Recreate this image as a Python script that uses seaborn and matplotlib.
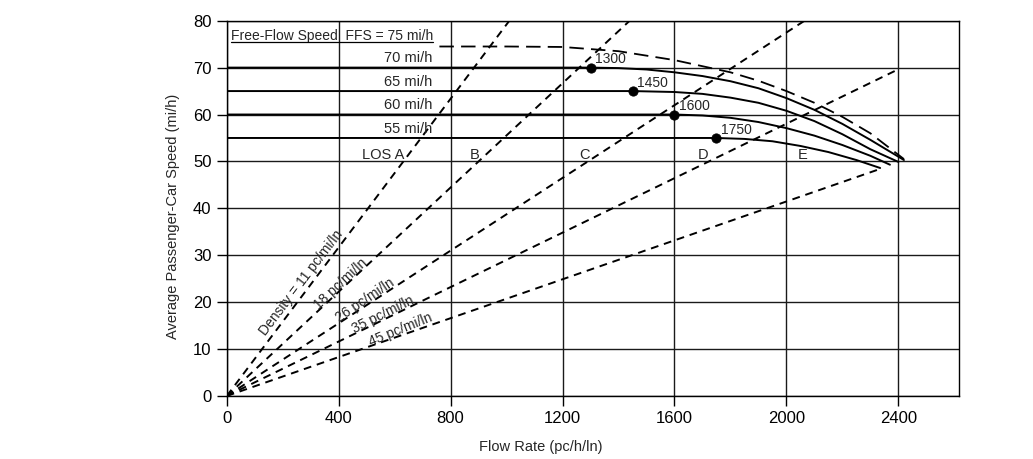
import matplotlib
matplotlib.use("Agg")
import matplotlib.pyplot as plt
import seaborn as sns
import pandas as pd
from matplotlib.lines import Line2D

# -------------------------
# Datos
# -------------------------
# Curvas velocidad-flujo por velocidad de flujo libre (FFS)
flow_75 = [760, 1000, 1200, 1400, 1600, 1800, 1900, 2000, 2100, 2200, 2300, 2420]
speed_75 = [74.5, 74.5, 74.4, 73.5, 71.6, 69.0, 67.2, 65.0, 62.5, 59.5, 56.0, 50.5]

flow_70 = [0, 1300, 1400, 1500, 1600, 1700, 1800, 1900, 2000, 2100, 2200, 2300, 2420]
speed_70 = [70, 70, 69.9, 69.6, 69.0, 68.2, 67.1, 65.6, 63.5, 61.0, 58.0, 54.6, 50.3]

flow_65 = [0, 1450, 1600, 1700, 1800, 1900, 2000, 2100, 2200, 2300, 2400]
speed_65 = [65, 65, 64.8, 64.4, 63.6, 62.5, 60.8, 58.6, 55.8, 52.6, 49.9]

flow_60 = [0, 1600, 1700, 1800, 1900, 2000, 2100, 2200, 2300, 2370]
speed_60 = [60, 60, 59.8, 59.3, 58.4, 57.1, 55.5, 53.5, 51.2, 49.3]

flow_55 = [0, 1750, 1850, 1950, 2050, 2150, 2250, 2335]
speed_55 = [55, 55, 54.8, 54.3, 53.3, 52.0, 50.3, 48.6]

ffs_names = ["70 mi/h", "65 mi/h", "60 mi/h", "55 mi/h"]
ffs_values = [70, 65, 60, 55]

# Puntos de quiebre
bp_flow = [1300, 1450, 1600, 1750]
bp_speed = [70, 65, 60, 55]
bp_labels = ["1300", "1450", "1600", "1750"]

# Líneas de densidad (desde el origen hasta su extremo)
dens_labels = ["Density = 11 pc/mi/ln", "18 pc/mi/ln", "26 pc/mi/ln",
               "35 pc/mi/ln", "45 pc/mi/ln"]
dens_end_flow = [1010, 1440, 2065, 2395, 2325]
dens_end_speed = [80, 80, 80, 69.5, 48.2]

# Niveles de servicio
los_labels = ["LOS A", "B", "C", "D", "E"]
los_flow = [559, 885, 1277, 1703, 2059]

x_ticks = [0, 400, 800, 1200, 1600, 2000, 2400]
y_ticks = [0, 10, 20, 30, 40, 50, 60, 70, 80]

# -------------------------
# Estilo
# -------------------------
sns.set_theme(style="white")
plt.rcParams['font.family'] = ['Liberation Sans', 'DejaVu Sans']

fig = plt.figure(figsize=(10.33, 4.59), dpi=100)
ax = fig.add_axes([0.2195, 0.1373, 0.7092, 0.8176])

# rejilla
for yv in y_ticks:
    ax.axhline(yv, color="#1a1a1a", lw=1.0, zorder=1)
for xv in x_ticks:
    ax.axvline(xv, color="#1a1a1a", lw=1.0, zorder=1)

# líneas de densidad
for xe, ye in zip(dens_end_flow, dens_end_speed):
    sns.lineplot(x=[0, xe], y=[0, ye], ax=ax, color="black", lw=1.4,
                 linestyle=(0, (4, 3)), zorder=2)

# curva FFS = 75 (discontinua)
sns.lineplot(x=flow_75, y=speed_75, ax=ax, color="black", lw=1.3,
             linestyle=(0, (8, 4)), sort=False, zorder=3)

# curvas sólidas
for fx, sy in [(flow_70, speed_70), (flow_65, speed_65),
               (flow_60, speed_60), (flow_55, speed_55)]:
    sns.lineplot(x=fx, y=sy, ax=ax, color="black", lw=1.4, sort=False, zorder=3)

# puntos de quiebre
sns.scatterplot(x=bp_flow, y=bp_speed, ax=ax, color="black", s=45,
                edgecolor="black", zorder=4)
for fx, sy, lab in zip(bp_flow, bp_speed, bp_labels):
    ax.annotate(lab, (fx, sy), xytext=(3, 1), textcoords="offset points",
                fontsize=10, ha="left", va="bottom")

# textos
ffs_txt = ax.text(15, 76.7, "Free-Flow Speed  FFS = 75 mi/h", fontsize=10,
                  ha="left", va="center")
for name, v in zip(ffs_names, ffs_values):
    ax.text(735, v + 0.5, name, fontsize=10.5, ha="right", va="bottom")
for lab, fx in zip(los_labels, los_flow):
    ax.text(fx, 51.4, lab, fontsize=10.5, ha="center", va="center")

dens_pos = [(268, 24.2, 52.7), (408, 23.8, 43.2), (494, 20.3, 34.0),
            (560, 17.3, 26.6), (622, 14.1, 22.3)]
for lab, (px, py, rot) in zip(dens_labels, dens_pos):
    ax.text(px, py, lab, fontsize=10, rotation=rot, ha="center", va="center",
            rotation_mode="anchor")

# ejes
ax.set_xlim(0, 2618)
ax.set_ylim(0, 80)
ax.set_xticks(x_ticks)
ax.set_yticks(y_ticks)
ax.tick_params(direction="out", length=7, width=1, pad=4, labelsize=12,
               colors="black", bottom=True, left=True)
for sp in ax.spines.values():
    sp.set_color("black")
    sp.set_linewidth(1.0)

ax.set_xlabel("Flow Rate (pc/h/ln)", fontsize=10.5)
ax.set_ylabel("Average Passenger-Car Speed (mi/h)", fontsize=10.5)
ax.xaxis.set_label_coords(0.428, -0.136)
ax.xaxis.label.set_va("center")
ax.yaxis.set_label_coords(-0.0733, 0.478)
ax.yaxis.label.set_va("center")

# subrayado del texto FFS
fig.canvas.draw()
bb = ffs_txt.get_window_extent().transformed(fig.transFigure.inverted())
fig.add_artist(Line2D([bb.x0, bb.x1], [bb.y0 + 0.002, bb.y0 + 0.002],
                      transform=fig.transFigure, color="black", lw=0.9))

fig.savefig("out.png", dpi=100, facecolor="white")
